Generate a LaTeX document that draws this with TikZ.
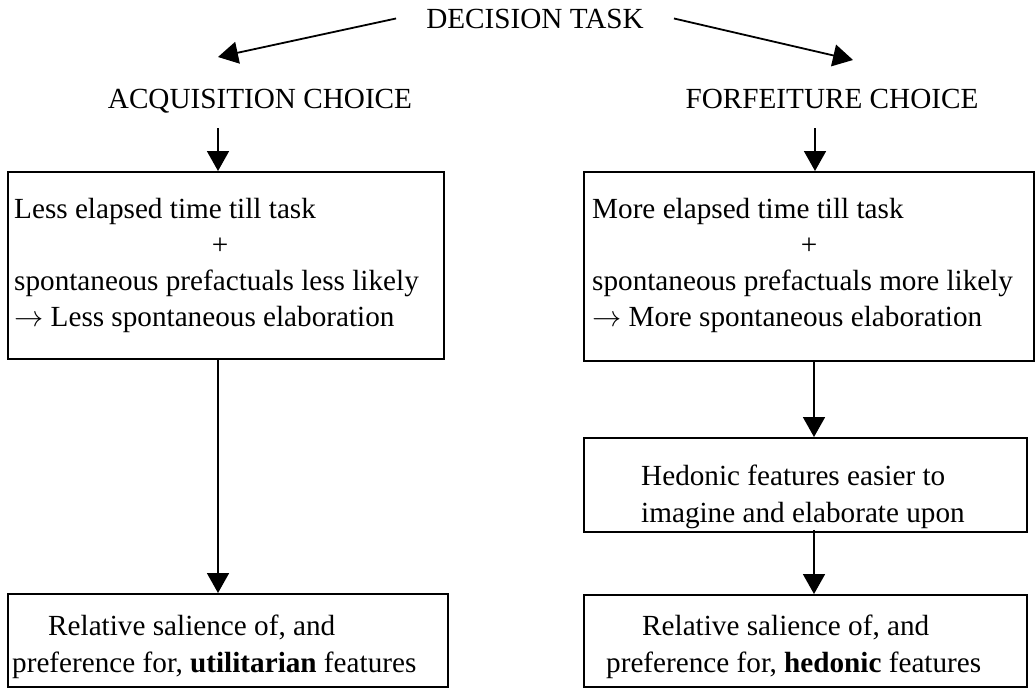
\RequirePackage{fix-cm}
\documentclass[tikz,border=0pt]{standalone}
\usepackage{fontspec}
\setmainfont{Liberation Serif}
\usetikzlibrary{arrows.meta}
\begin{document}
\begin{tikzpicture}[x=1pt,y=-1pt,
  box/.style={draw, line width=1.8pt, inner sep=0pt, anchor=north west},
  txt/.style={inner sep=0pt, anchor=base west, font=\fontsize{29.2}{36}\selectfont},
  arr/.style={line width=1.8pt, -{Triangle[length=20pt,width=22pt]}}]
\useasboundingbox (0,0) rectangle (1035,688);
% headings
\node[txt, anchor=base, inner xsep=30pt] (dt) at (535,28) {DECISION TASK};
\node[txt, anchor=base] (acq) at (260,108) {ACQUISITION CHOICE};
\node[txt, anchor=base] (fc) at (832,108) {FORFEITURE CHOICE};
\coordinate (tipL) at (218,57);
\coordinate (tipR) at (853,60);
\coordinate (acqb) at (218,128);
\coordinate (fcb) at (815,128);
\coordinate (lx) at (218,0);
\coordinate (rx) at (814,0);
% boxes
\node[box, minimum width=436pt, minimum height=187pt] (b1) at (7,171) {};
\node[box, minimum width=450pt, minimum height=189pt] (b2) at (583,171) {};
\node[box, minimum width=443pt, minimum height=94pt] (b3) at (583,437) {};
\node[box, minimum width=443pt, minimum height=92pt] (b4) at (583,594) {};
\node[box, minimum width=440pt, minimum height=93pt] (b5) at (7,593) {};
% box texts
\node[txt] (l1) at (14,218) {Less elapsed time till task};
\node[txt, anchor=base] (l2) at (220,254) {+};
\node[txt] (l3) at (14,290) {spontaneous prefactuals less likely};
\node[txt] (l4) at (14,326) {$\rightarrow$ Less spontaneous elaboration};
\node[txt] (r1) at (592,218) {More elapsed time till task};
\node[txt, anchor=base] (r2) at (809,254) {+};
\node[txt] (r3) at (592,290) {spontaneous prefactuals more likely};
\node[txt] (r4) at (592,326) {$\rightarrow$ More spontaneous elaboration};
\node[txt] (h1) at (641,485) {Hedonic features easier to};
\node[txt] (h2) at (641,522) {imagine and elaborate upon};
\node[txt] (u1) at (48,635) {Relative salience of, and};
\node[txt] (u2) at (12,672) {preference for, \textbf{utilitarian} features};
\node[txt] (e1) at (642,635) {Relative salience of, and};
\node[txt] (e2) at (606,672) {preference for, \textbf{hedonic} features};
% connectors
\draw[arr] (dt.west) -- (tipL);
\draw[arr] (dt.east) -- (tipR);
\draw[arr] (acqb) -- (acqb |- b1.north);
\draw[arr] (fcb) -- (fcb |- b2.north);
\draw[arr] (lx |- b1.south) -- (lx |- b5.north);
\draw[arr] (rx |- b2.south) -- (rx |- b3.north);
\draw[arr] ([yshift=3pt]rx |- b3.south) -- (rx |- b4.north);
\end{tikzpicture}
\end{document}
